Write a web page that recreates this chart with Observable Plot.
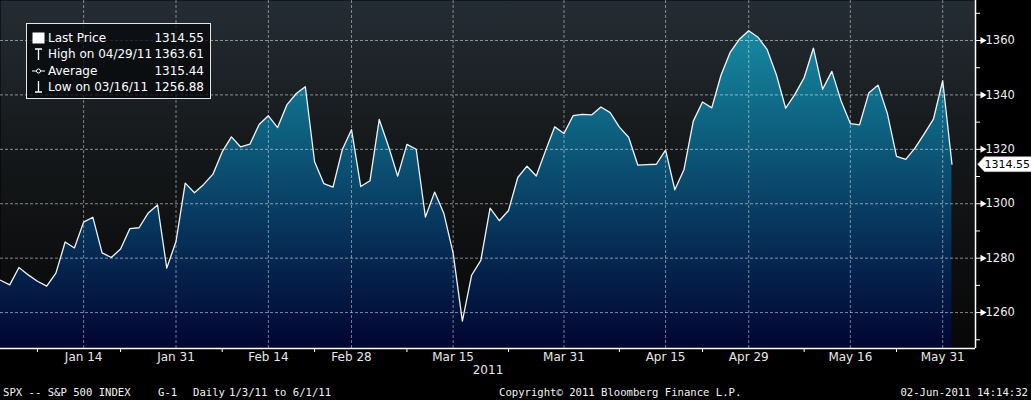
<!DOCTYPE html>
<html><head><meta charset="utf-8">
<script src="https://cdn.jsdelivr.net/npm/d3@7"></script>
<script src="https://cdn.jsdelivr.net/npm/@observablehq/plot@0.6"></script>
<style>
html,body{margin:0;padding:0;background:#000;}
#wrap{position:relative;width:1031px;height:400px;overflow:hidden;background:#000;font-family:"DejaVu Sans",sans-serif;}
#legend{position:absolute;left:26px;top:23px;width:183px;height:74px;border:1px solid #e6e6e6;background:rgba(6,9,11,0.78);color:#fff;font-size:12px;}
.row{position:absolute;left:0;right:0;height:16px;line-height:16px;}
.row svg{position:absolute;left:5px;top:2px;}
.row .lab{position:absolute;left:21px;}
.row .val{position:absolute;right:6px;}
.foot{position:absolute;top:384px;height:16px;line-height:16px;font-family:"DejaVu Sans Mono",monospace;font-size:10.6px;color:#f2f2f2;white-space:pre;}
</style></head>
<body><div id="wrap"><div id="chart"></div><div id="legend"></div><div id="footer"></div></div>
<script>
const dates = [
"2011-01-03","2011-01-04","2011-01-05","2011-01-06","2011-01-07","2011-01-10","2011-01-11","2011-01-12","2011-01-13","2011-01-14",
"2011-01-18","2011-01-19","2011-01-20","2011-01-21","2011-01-24","2011-01-25","2011-01-26","2011-01-27","2011-01-28","2011-01-31",
"2011-02-01","2011-02-02","2011-02-03","2011-02-04","2011-02-07","2011-02-08","2011-02-09","2011-02-10","2011-02-11","2011-02-14",
"2011-02-15","2011-02-16","2011-02-17","2011-02-18","2011-02-22","2011-02-23","2011-02-24","2011-02-25","2011-02-28",
"2011-03-01","2011-03-02","2011-03-03","2011-03-04","2011-03-07","2011-03-08","2011-03-09","2011-03-10","2011-03-11","2011-03-14",
"2011-03-15","2011-03-16","2011-03-17","2011-03-18","2011-03-21","2011-03-22","2011-03-23","2011-03-24","2011-03-25","2011-03-28",
"2011-03-29","2011-03-30","2011-03-31",
"2011-04-01","2011-04-04","2011-04-05","2011-04-06","2011-04-07","2011-04-08","2011-04-11","2011-04-12","2011-04-13","2011-04-14",
"2011-04-15","2011-04-18","2011-04-19","2011-04-20","2011-04-21","2011-04-25","2011-04-26","2011-04-27","2011-04-28","2011-04-29",
"2011-05-02","2011-05-03","2011-05-04","2011-05-05","2011-05-06","2011-05-09","2011-05-10","2011-05-11","2011-05-12","2011-05-13",
"2011-05-16","2011-05-17","2011-05-18","2011-05-19","2011-05-20","2011-05-23","2011-05-24","2011-05-25","2011-05-26","2011-05-27",
"2011-05-31","2011-06-01"];
const closes = [
1271.87,1270.20,1276.56,1273.85,1271.50,1269.75,1274.48,1285.96,1283.76,1293.24,
1295.02,1281.92,1280.26,1283.35,1290.84,1291.18,1296.63,1299.54,1276.34,1286.12,
1307.59,1304.03,1307.10,1310.87,1319.05,1324.57,1320.88,1321.87,1329.15,1332.32,
1328.01,1336.32,1340.43,1343.01,1315.44,1307.40,1306.10,1319.88,1327.22,
1306.33,1308.44,1330.97,1321.15,1310.13,1321.82,1320.02,1295.11,1304.28,1296.39,
1281.87,1256.88,1273.72,1279.21,1298.38,1293.77,1297.54,1309.66,1313.80,1310.19,
1319.44,1328.26,1325.83,
1332.41,1332.87,1332.63,1335.54,1333.51,1328.17,1324.46,1314.16,1314.41,1314.52,
1319.68,1305.14,1312.62,1330.36,1337.38,1335.25,1347.24,1355.66,1360.48,1363.61,
1361.22,1356.62,1347.32,1335.10,1340.20,1346.29,1357.16,1342.08,1348.65,1337.77,
1329.47,1328.98,1340.68,1343.60,1333.27,1317.37,1316.28,1320.47,1325.69,1331.10,
1345.20,1314.55];

const tickDates = ["2011-01-14","2011-01-31","2011-02-14","2011-02-28","2011-03-15","2011-03-31","2011-04-15","2011-04-29","2011-05-16","2011-05-31"];
const tickLabels = ["Jan 14","Jan 31","Feb 14","Feb 28","Mar 15","Mar 31","Apr 15","Apr 29","May 16","May 31"];
const minorTickDates = ["2011-01-07","2011-01-21","2011-02-07","2011-02-22","2011-03-08","2011-03-23","2011-04-08","2011-04-21","2011-05-09","2011-05-23"];
const yTicks = [1260,1280,1300,1320,1340,1360];
const yMinorTicks = [1250,1270,1290,1310,1330,1350,1370];
const yearLabel = ["2011"];
const legendLabels = ["Last Price","High on 04/29/11","Average","Low on 03/16/11"];
const legendValues = [1314.55,1363.61,1315.44,1256.88];
const footerTexts = ["SPX -- S&P 500 INDEX","G-1","Daily","1/3/11 to 6/1/11","Copyright\u00A9 2011 Bloomberg Finance L.P.","02-Jun-2011 14:14:32"];

const yDomain = [1246.8, 1374.7];
const xDomain = [0, 105.55];

const data = dates.map((d, i) => ({i, date: d, close: closes[i]}));
const last = data[data.length - 1];
const majorIdx = tickDates.map(d => dates.indexOf(d));
const minorIdx = minorTickDates.map(d => dates.indexOf(d));
const labelOf = new Map(majorIdx.map((k, j) => [k, tickLabels[j]]));

const tagSymbol = {draw(ctx) {
  ctx.moveTo(0, 0); ctx.lineTo(7, -7.5); ctx.lineTo(56, -7.5);
  ctx.lineTo(56, 7.5); ctx.lineTo(7, 7.5); ctx.closePath();
}};

const chart = Plot.plot({
  width: 1031, height: 400,
  marginTop: 0, marginLeft: 0, marginRight: 56, marginBottom: 52,
  x: {domain: xDomain, axis: null},
  y: {domain: yDomain, axis: null},
  style: {background: "#000", color: "white", fontFamily: "DejaVu Sans", fontSize: "12px"},
  marks: [
    Plot.frame({fill: "url(#bgGrad)", stroke: "none"}),
    Plot.areaY(data, {x: "i", y1: yDomain[0], y2: "close", fill: "url(#areaGrad)"}),
    Plot.gridY(yTicks, {stroke: "#fff", strokeOpacity: 0.5, strokeDasharray: "3,2"}),
    Plot.gridX(majorIdx, {stroke: "#fff", strokeOpacity: 0.45, strokeDasharray: "3,2"}),
    Plot.lineY(data, {x: "i", y: "close", stroke: "#eef3f6", strokeWidth: 1.3}),
    Plot.ruleY([yDomain[0]], {stroke: "white", strokeWidth: 1.5}),
    Plot.ruleX([xDomain[1]], {stroke: "white", strokeWidth: 1.5}),
    Plot.axisX(majorIdx, {tickSize: 0, tickPadding: 4, tickFormat: d => labelOf.get(d), fontSize: 12, fill: "#e8e8e8", label: null}),
    Plot.axisX(minorIdx, {tickSize: 4, tickFormat: () => "", stroke: "white", label: null}),
    Plot.text(yearLabel, {frameAnchor: "bottom", dy: 25, fontSize: 12, fill: "#e8e8e8"}),
    Plot.axisY(yTicks, {anchor: "right", tickSize: 6, tickPadding: 4, fontSize: 11.5, stroke: "white", fill: "#f0f0f0", tickFormat: d => String(d), label: null}),
    Plot.axisY(yMinorTicks, {anchor: "right", tickSize: 4, tickFormat: () => "", stroke: "white", label: null}),
    Plot.dot(yTicks, {y: d => d, frameAnchor: "right", dx: 7, symbol: "triangle", rotate: 90, r: 2.6, fill: "white", stroke: "none"}),
    Plot.dot([last], {y: "close", frameAnchor: "right", dx: 2, symbol: tagSymbol, fill: "white", stroke: "#aaa", strokeWidth: 0.6}),
    Plot.text([last], {y: "close", text: d => d.close.toFixed(2), frameAnchor: "right", dx: 9, textAnchor: "start", fill: "#000", fontSize: 11})
  ]
});

document.getElementById("chart").appendChild(chart);
const svgSel = d3.select(chart);
const defs = svgSel.insert("defs", ":first-child");
const bg = defs.append("linearGradient").attr("id", "bgGrad").attr("gradientUnits", "userSpaceOnUse")
  .attr("x1", 0).attr("x2", 0).attr("y1", 0).attr("y2", 348);
[[0, "#252d34"], [0.45, "#141719"], [1, "#070707"]].forEach(([o, c]) => bg.append("stop").attr("offset", o).attr("stop-color", c));
const ag = defs.append("linearGradient").attr("id", "areaGrad").attr("gradientUnits", "userSpaceOnUse")
  .attr("x1", 0).attr("x2", 0).attr("y1", 0).attr("y2", 348);
[[0, "#1b93aa"], [0.15, "#15809a"], [0.35, "#0e6482"], [0.55, "#0a456a"], [0.75, "#05264f"], [1, "#020532"]].forEach(([o, c]) => ag.append("stop").attr("offset", o).attr("stop-color", c));

// footer
const footerPos = [{left: 3}, {left: 158}, {left: 193}, {left: 229}, {left: 499}, {right: 3}];
const foot = document.getElementById("footer");
footerTexts.forEach((t, k) => {
  const s = document.createElement("span");
  s.className = "foot";
  s.textContent = t;
  const p = footerPos[k];
  if (p.left != null) s.style.left = p.left + "px"; else s.style.right = p.right + "px";
  foot.appendChild(s);
});

// legend
const icons = [
  '<svg width="13" height="12"><rect x="0.5" y="0.5" width="12" height="11" fill="#fff"/></svg>',
  '<svg width="13" height="12"><path d="M3 1H10M6.5 1V12" stroke="#fff" stroke-width="1.3" fill="none"/></svg>',
  '<svg width="13" height="12"><path d="M0 6H13" stroke="#fff" stroke-width="1"/><circle cx="6.5" cy="6" r="2" fill="#000" stroke="#fff" stroke-width="1"/></svg>',
  '<svg width="13" height="12"><path d="M3 11H10M6.5 0V11" stroke="#fff" stroke-width="1.3" fill="none"/></svg>'
];
const rowTops = [6, 22, 39, 55];
const leg = document.getElementById("legend");
legendLabels.forEach((lab, k) => {
  const r = document.createElement("div");
  r.className = "row";
  r.style.top = rowTops[k] + "px";
  r.innerHTML = icons[k] + '<span class="lab">' + lab + '</span><span class="val">' + legendValues[k].toFixed(2) + '</span>';
  leg.appendChild(r);
});
</script></body></html>
